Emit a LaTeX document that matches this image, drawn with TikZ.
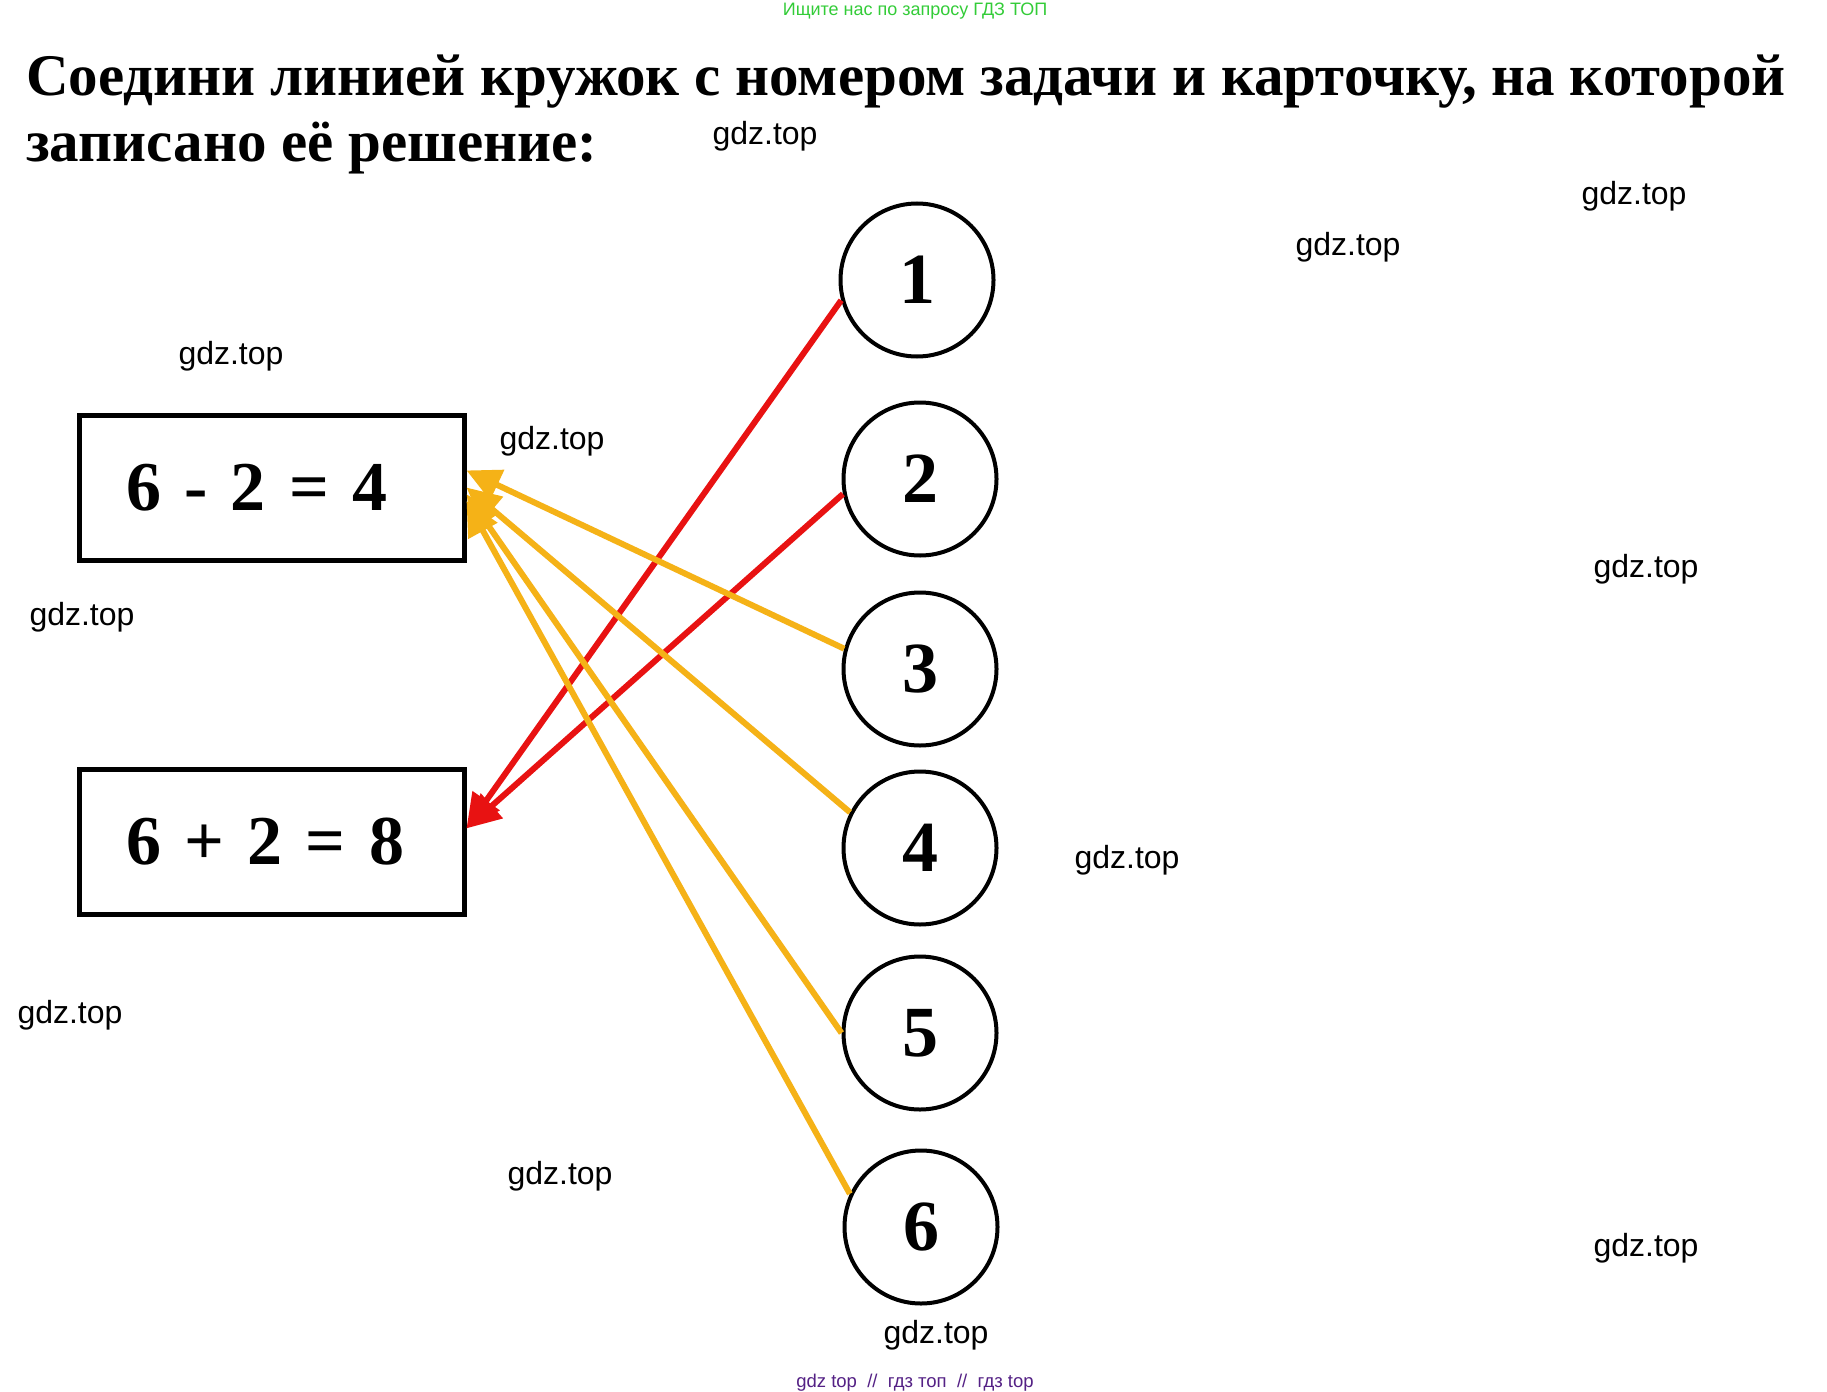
\documentclass[tikz,border=0pt]{standalone}
\usepackage{fontspec}
\setmainfont{Liberation Serif}
\newfontfamily\wmfont{Liberation Sans}
\usetikzlibrary{arrows.meta}
\newlength{\du}
\setlength{\du}{1pt}
\definecolor{redline}{rgb}{0.910000, 0.070000, 0.070000}
\definecolor{orangeline}{rgb}{0.960000, 0.700000, 0.090000}
\definecolor{greentext}{rgb}{0.200000, 0.800000, 0.220000}
\definecolor{purpletext}{rgb}{0.330000, 0.130000, 0.520000}
\tikzset{
  numcircle/.style={circle, draw, line width=4\du, minimum size=153\du, inner sep=0pt,
    font=\fontsize{72\du}{72\du}\selectfont\bfseries},
  cardbox/.style={rectangle, draw, line width=5\du, minimum height=145\du,
    text width=291\du, inner xsep=47\du, align=left,
    font=\fontsize{70\du}{70\du}\selectfont\bfseries},
  wm/.style={font=\wmfont\fontsize{32\du}{32\du}\selectfont},
  redarrow/.style={draw=redline, line width=6\du, -{Triangle[length=34pt,width=32pt]}},
  orangearrow/.style={draw=orangeline, line width=6\du, -{Triangle[length=34pt,width=32pt]}}
}

\begin{document}
\begin{tikzpicture}
\pgftransformxscale{1.000000}
\pgftransformyscale{-1.000000}
\fill[white] (0\du,0\du) rectangle (1827\du,1391\du);
\useasboundingbox (0\du,0\du) rectangle (1827\du,1391\du);
% header
\node[font=\wmfont\fontsize{18\du}{18\du}\selectfont, text=greentext] (adtop) at (915\du,11\du){Ищите нас по запросу ГДЗ ТОП};
\node[anchor=base west, inner sep=0pt, font=\fontsize{59\du}{59\du}\selectfont\bfseries] (title1) at (26\du,96\du){Соедини линией кружок с номером задачи и карточку, на которой};
\node[anchor=base west, inner sep=0pt, font=\fontsize{59\du}{59\du}\selectfont\bfseries] (title2) at (26\du,162\du){записано её решение:};
% cards
\node[cardbox] (b1) at (271.500000\du,487.500000\du){6 - 2 = 4};
\node[cardbox] (b2) at (271.500000\du,842.000000\du){6 + 2 = 8};
% circles
\node[numcircle] (c1) at (917\du,280\du){1};
\node[numcircle] (c2) at (920\du,479\du){2};
\node[numcircle] (c3) at (920\du,669\du){3};
\node[numcircle] (c4) at (920\du,848\du){4};
\node[numcircle] (c5) at (920\du,1033\du){5};
\node[numcircle] (c6) at (921\du,1227\du){6};
% lines
\draw[redarrow] (c1.195) -- (b2.4);
\draw[redarrow] (c2.191) -- (b2.4);
\draw[orangearrow] (c3.165) -- (b1.5);
\draw[orangearrow] (c4.153) -- (b1.0);
\draw[orangearrow] (c5.180) -- (b1.-2);
\draw[orangearrow] (c6.155) -- (b1.-4);
% watermarks
\node[wm] (w1) at (765\du,136\du){gdz.top};
\node[wm] (w2) at (1634\du,196\du){gdz.top};
\node[wm] (w3) at (1348\du,247\du){gdz.top};
\node[wm] (w4) at (231\du,356\du){gdz.top};
\node[wm] (w5) at (552\du,441\du){gdz.top};
\node[wm] (w6) at (82\du,617\du){gdz.top};
\node[wm] (w7) at (1646\du,569\du){gdz.top};
\node[wm] (w8) at (1127\du,860\du){gdz.top};
\node[wm] (w9) at (70\du,1015\du){gdz.top};
\node[wm] (w10) at (560\du,1176\du){gdz.top};
\node[wm] (w11) at (1646\du,1248\du){gdz.top};
\node[wm] (w12) at (936\du,1335\du){gdz.top};
\node[font=\wmfont\fontsize{18.5\du}{18.5\du}\selectfont, text=purpletext] (adbottom) at (915\du,1383\du){gdz top~~//~~гдз топ~~//~~гдз top};
\end{tikzpicture}
\end{document}
